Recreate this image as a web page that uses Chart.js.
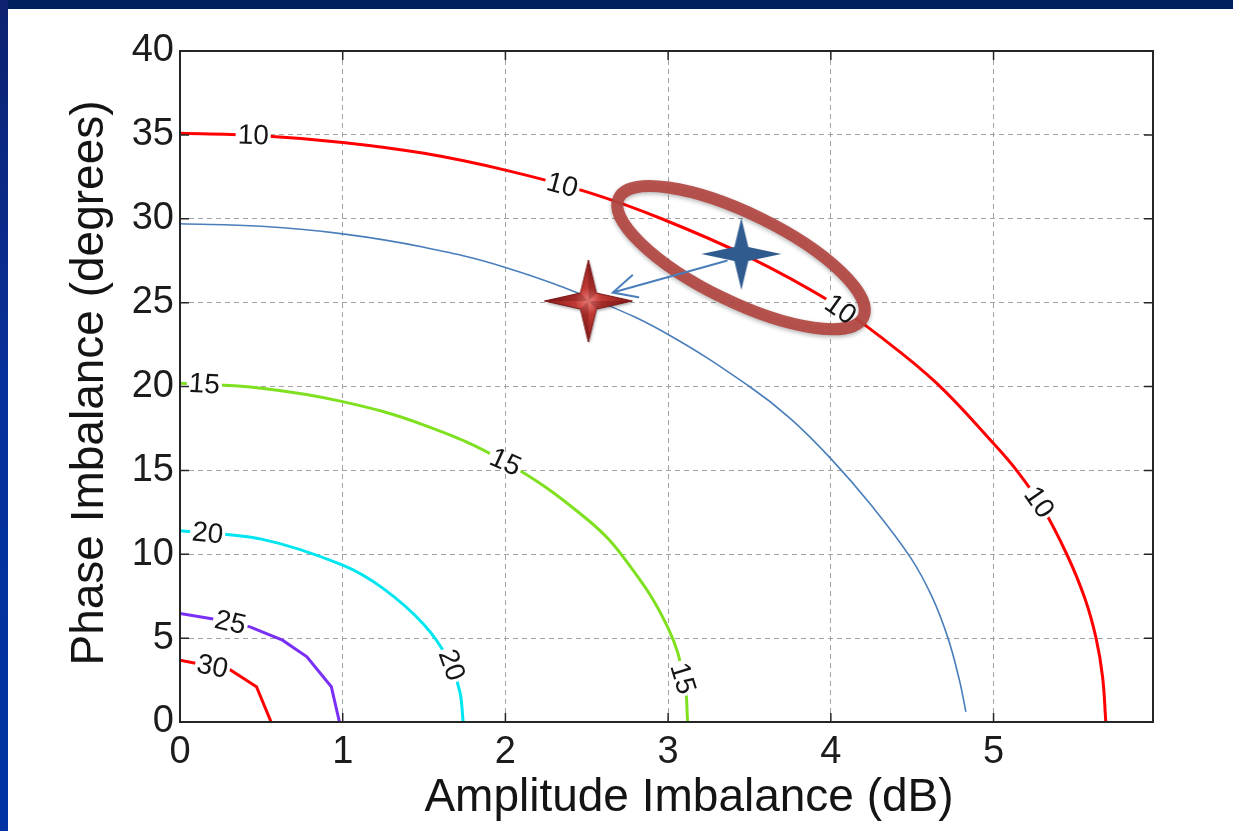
<!DOCTYPE html>
<html><head><meta charset="utf-8">
<script src="https://cdn.jsdelivr.net/npm/chart.js@4.4.1/dist/chart.umd.min.js"></script>
<style>
html,body{margin:0;padding:0;background:#fff;width:1233px;height:831px;overflow:hidden}
#wrap{position:absolute;left:0;top:0;width:1233px;height:831px}
#topbar{position:absolute;left:0;top:0;width:1233px;height:9px;background:#001f5c}
#leftbar{position:absolute;left:0;top:0;width:8px;height:831px;background:linear-gradient(#0d2270,#08309a 45%,#0034a4)}
</style></head><body>
<div id="wrap"><canvas id="c" width="1233" height="831"></canvas></div>
<div id="topbar"></div><div id="leftbar"></div>
<script>
// ---- data ----
const xTicks = [0, 1, 2, 3, 4, 5];
const yTicks = [0, 5, 10, 15, 20, 25, 30, 35, 40];
const xTitle = 'Amplitude Imbalance (dB)';
const yTitle = 'Phase Imbalance (degrees)';

const contour10 = [[0,35.1],[0.5,34.95],[1,34.55],[1.5,33.9],[2,32.9],[2.5,31.6],[2.96,30],[3.5,27.7],[4,25.05],[4.3,23],[4.65,20.2],[5,16.6],[5.15,14.9],[5.3,12.8],[5.45,10],[5.56,7.4],[5.63,5],[5.67,2.7],[5.69,0]];
const contour15 = [[0,20.2],[0.5,19.9],[1,19.1],[1.5,17.7],[2,15.5],[2.5,12.1],[2.75,9.5],[3,5.6],[3.1,2.4],[3.12,0]];
const contour20 = [[0,11.4],[0.5,10.9],[1,9.35],[1.25,7.95],[1.5,5.8],[1.65,3.7],[1.72,1.8],[1.74,0]];
const contour25 = [[0,6.47],[0.25,6.07],[0.43,5.67],[0.63,4.88],[0.78,3.89],[0.93,2.1],[0.98,0]];
const contour30 = [[0,3.69],[0.31,3.1],[0.47,2.1],[0.56,0]];
const shiftedCurve = [[0,29.7],[0.5,29.55],[1,29.1],[1.5,28.3],[2,27.1],[2.59,25],[3,23.1],[3.5,20.0],[3.75,18.1],[4,15.7],[4.25,12.9],[4.49,9.8],[4.62,7.5],[4.72,5],[4.79,2.5],[4.83,0.6]];

// contour labels: [series index, text, x, y]
const contourLabels = [
  [0,'10',0.45,34.97],[0,'10',2.35,32.0],[0,'10',4.06,24.6],[0,'10',5.28,13.1],
  [1,'15',0.15,20.15],[1,'15',2.0,15.5],[1,'15',3.09,2.6],
  [2,'20',0.17,11.25],[2,'20',1.67,3.4],
  [3,'25',0.31,5.94],
  [4,'30',0.2,3.31]
];
const oldPoint = [[3.45, 27.9]];   // blue star
const newPoint = [[2.51, 25.1]];   // red star
const arrowFrom = [3.36, 27.5], arrowTo = [2.66, 25.6];
const ellipseCenter = [3.448, 27.68];

const series = [contour10, contour15, contour20, contour25, contour30];
const seriesColors = ['#ff0000', '#7fe020', '#00e6f0', '#7a2ff5', '#ff0000'];
const seriesTension = [0.4, 0.4, 0.35, 0, 0];
const FONT = "'Liberation Sans', Arial, Helvetica, sans-serif";
const toXY = arr => arr.map(([x, y]) => ({x, y}));

function makeStar(rx, ry, inner, kind) {
  const c = document.createElement('canvas');
  c.width = Math.ceil(rx * 2 + 6); c.height = Math.ceil(ry * 2 + 6);
  const g = c.getContext('2d');
  const cx = c.width / 2, cy = c.height / 2;
  const tips = [[0,-ry],[rx,0],[0,ry],[-rx,0]];
  const ins = [[inner,-inner],[inner,inner],[-inner,inner],[-inner,-inner]];
  const path = () => {
    g.beginPath();
    for (let i = 0; i < 4; i++) {
      g.lineTo(cx + tips[i][0], cy + tips[i][1]);
      g.lineTo(cx + ins[i][0], cy + ins[i][1]);
    }
    g.closePath();
  };
  if (kind === 'red') {
    g.shadowColor = 'rgba(0,0,0,0.35)'; g.shadowBlur = 3; g.shadowOffsetX = 1; g.shadowOffsetY = 2;
    path();
    const rg = g.createRadialGradient(cx, cy, 0, cx, cy, Math.max(rx, ry));
    rg.addColorStop(0, '#ee7f7b'); rg.addColorStop(0.3, '#c13a35'); rg.addColorStop(1, '#861818');
    g.fillStyle = rg; g.fill();
    g.shadowColor = 'transparent';
    for (let i = 0; i < 4; i++) {
      const t = tips[i], b = ins[i];
      g.beginPath(); g.moveTo(cx, cy); g.lineTo(cx + t[0], cy + t[1]); g.lineTo(cx + b[0], cy + b[1]); g.closePath();
      g.fillStyle = 'rgba(60,0,0,0.22)'; g.fill();
    }
    path(); g.strokeStyle = '#7c1616'; g.lineWidth = 1; g.stroke();
  } else {
    path(); g.fillStyle = '#2f5b8f'; g.fill();
  }
  return c;
}

const datasets = [
  {data: toXY(newPoint), pointStyle: makeStar(44, 41, 8, 'red'), pointRadius: 10, showLine: false},
  {data: toXY(oldPoint), pointStyle: makeStar(40, 36, 7, 'blue'), pointRadius: 10, showLine: false},
];
series.forEach((s, i) => datasets.push({data: toXY(s), showLine: true, borderColor: seriesColors[i], borderWidth: 3, pointRadius: 0,
  tension: seriesTension[i], fill: false}));
datasets.push({data: toXY(shiftedCurve), showLine: true, borderColor: '#4a7ebb', borderWidth: 1.6, pointRadius: 0, tension: 0.4, fill: false});

function labelAngle(chart, sIdx, lx, ly) {
  const xs = chart.scales.x, ys = chart.scales.y;
  const pts = series[sIdx].map(([x, y]) => [xs.getPixelForValue(x), ys.getPixelForValue(y)]);
  const px = xs.getPixelForValue(lx), py = ys.getPixelForValue(ly);
  let best = 0, bd = Infinity;
  for (let i = 0; i < pts.length - 1; i++) {
    const dx = pts[i+1][0] - pts[i][0], dy = pts[i+1][1] - pts[i][1];
    let t = ((px - pts[i][0]) * dx + (py - pts[i][1]) * dy) / (dx * dx + dy * dy);
    t = Math.max(0, Math.min(1, t));
    const d = Math.hypot(pts[i][0] + t * dx - px, pts[i][1] + t * dy - py);
    if (d < bd) { bd = d; best = i; }
  }
  let a = Math.atan2(pts[best+1][1] - pts[best][1], pts[best+1][0] - pts[best][0]);
  if (a > Math.PI / 2) a -= Math.PI; if (a < -Math.PI / 2) a += Math.PI;
  return a;
}

const overlay = {
  id: 'overlay',
  afterDatasetsDraw(chart) {
    const {ctx, chartArea: a, scales: {x, y}} = chart;
    ctx.save();
    ctx.font = `28px ${FONT}`;
    const placed = contourLabels.map(([s, txt, lx, ly]) => ({txt, px: x.getPixelForValue(lx), py: y.getPixelForValue(ly), ang: labelAngle(chart, s, lx, ly), w: ctx.measureText(txt).width}));
    placed.forEach(p => {
      ctx.save(); ctx.translate(p.px, p.py); ctx.rotate(p.ang);
      ctx.fillStyle = '#ffffff'; ctx.fillRect(-p.w / 2 - 2, -9, p.w + 4, 18);
      ctx.restore();
    });
    const ex = x.getPixelForValue(ellipseCenter[0]), ey = y.getPixelForValue(ellipseCenter[1]);
    ctx.save();
    ctx.shadowColor = 'rgba(0,0,0,0.3)'; ctx.shadowBlur = 4; ctx.shadowOffsetY = 2;
    ctx.beginPath(); ctx.ellipse(ex, ey, 136, 44, 26 * Math.PI / 180, 0, Math.PI * 2);
    ctx.strokeStyle = 'rgba(178,70,66,0.92)'; ctx.lineWidth = 12; ctx.stroke();
    ctx.restore();
    placed.forEach(p => {
      ctx.save(); ctx.translate(p.px, p.py); ctx.rotate(p.ang);
      ctx.fillStyle = '#151515'; ctx.textAlign = 'center'; ctx.textBaseline = 'middle';
      ctx.fillText(p.txt, 0, 1);
      ctx.restore();
    });
    const x1 = x.getPixelForValue(arrowFrom[0]), y1 = y.getPixelForValue(arrowFrom[1]);
    const x2 = x.getPixelForValue(arrowTo[0]), y2 = y.getPixelForValue(arrowTo[1]);
    const ang = Math.atan2(y2 - y1, x2 - x1);
    ctx.strokeStyle = '#4a7ebb'; ctx.lineWidth = 2; ctx.lineCap = 'round';
    ctx.beginPath(); ctx.moveTo(x1, y1); ctx.lineTo(x2, y2);
    ctx.moveTo(x2 + 26 * Math.cos(ang + Math.PI - 0.45), y2 + 26 * Math.sin(ang + Math.PI - 0.45));
    ctx.lineTo(x2, y2);
    ctx.lineTo(x2 + 26 * Math.cos(ang + Math.PI + 0.45), y2 + 26 * Math.sin(ang + Math.PI + 0.45));
    ctx.stroke();
    ctx.lineCap = 'butt';
    ctx.strokeStyle = '#262626'; ctx.lineWidth = 2;
    ctx.strokeRect(a.left, a.top, a.right - a.left, a.bottom - a.top);
    ctx.lineWidth = 1.5; ctx.beginPath();
    xTicks.forEach(v => { const px = x.getPixelForValue(v); ctx.moveTo(px, a.bottom); ctx.lineTo(px, a.bottom - 9); ctx.moveTo(px, a.top); ctx.lineTo(px, a.top + 9); });
    yTicks.forEach(v => { const py = y.getPixelForValue(v); ctx.moveTo(a.left, py); ctx.lineTo(a.left + 9, py); ctx.moveTo(a.right, py); ctx.lineTo(a.right - 9, py); });
    ctx.stroke();
    ctx.restore();
  },
  afterDraw(chart) {
    const {ctx} = chart;
    ctx.save();
    ctx.fillStyle = '#141414'; ctx.font = `46px ${FONT}`;
    ctx.textAlign = 'center'; ctx.textBaseline = 'alphabetic';
    ctx.fillText(xTitle, 689, 811);
    ctx.translate(103, 383); ctx.rotate(-Math.PI / 2);
    ctx.fillText(yTitle, 0, 0);
    ctx.restore();
  }
};

new Chart(document.getElementById('c'), {
  type: 'scatter',
  data: {datasets},
  options: {
    responsive: false, animation: false, events: [],
    layout: {padding: {left: 0, top: 51, right: 80, bottom: 0}},
    plugins: {legend: {display: false}, tooltip: {enabled: false}},
    scales: {
      x: {
        type: 'linear', min: 0, max: 5.98,
        afterBuildTicks: s => { s.ticks = xTicks.map(v => ({value: v})); },
        afterFit: s => { s.height = 109; },
        grid: {color: '#a3a3a3', lineWidth: 1, drawTicks: false},
        border: {display: false, dash: [5, 4]},
        ticks: {padding: 8, color: '#1c1c1c', font: {family: FONT, size: 38}, maxRotation: 0, autoSkip: false}
      },
      y: {
        type: 'linear', min: 0, max: 40,
        afterBuildTicks: s => { s.ticks = yTicks.map(v => ({value: v})); },
        afterFit: s => { s.width = 180; },
        grid: {color: '#a3a3a3', lineWidth: 1, drawTicks: false},
        border: {display: false, dash: [5, 4]},
        ticks: {padding: 6, color: '#1c1c1c', font: {family: FONT, size: 38}, autoSkip: false}
      }
    }
  },
  plugins: [overlay]
});
</script>
</body></html>
